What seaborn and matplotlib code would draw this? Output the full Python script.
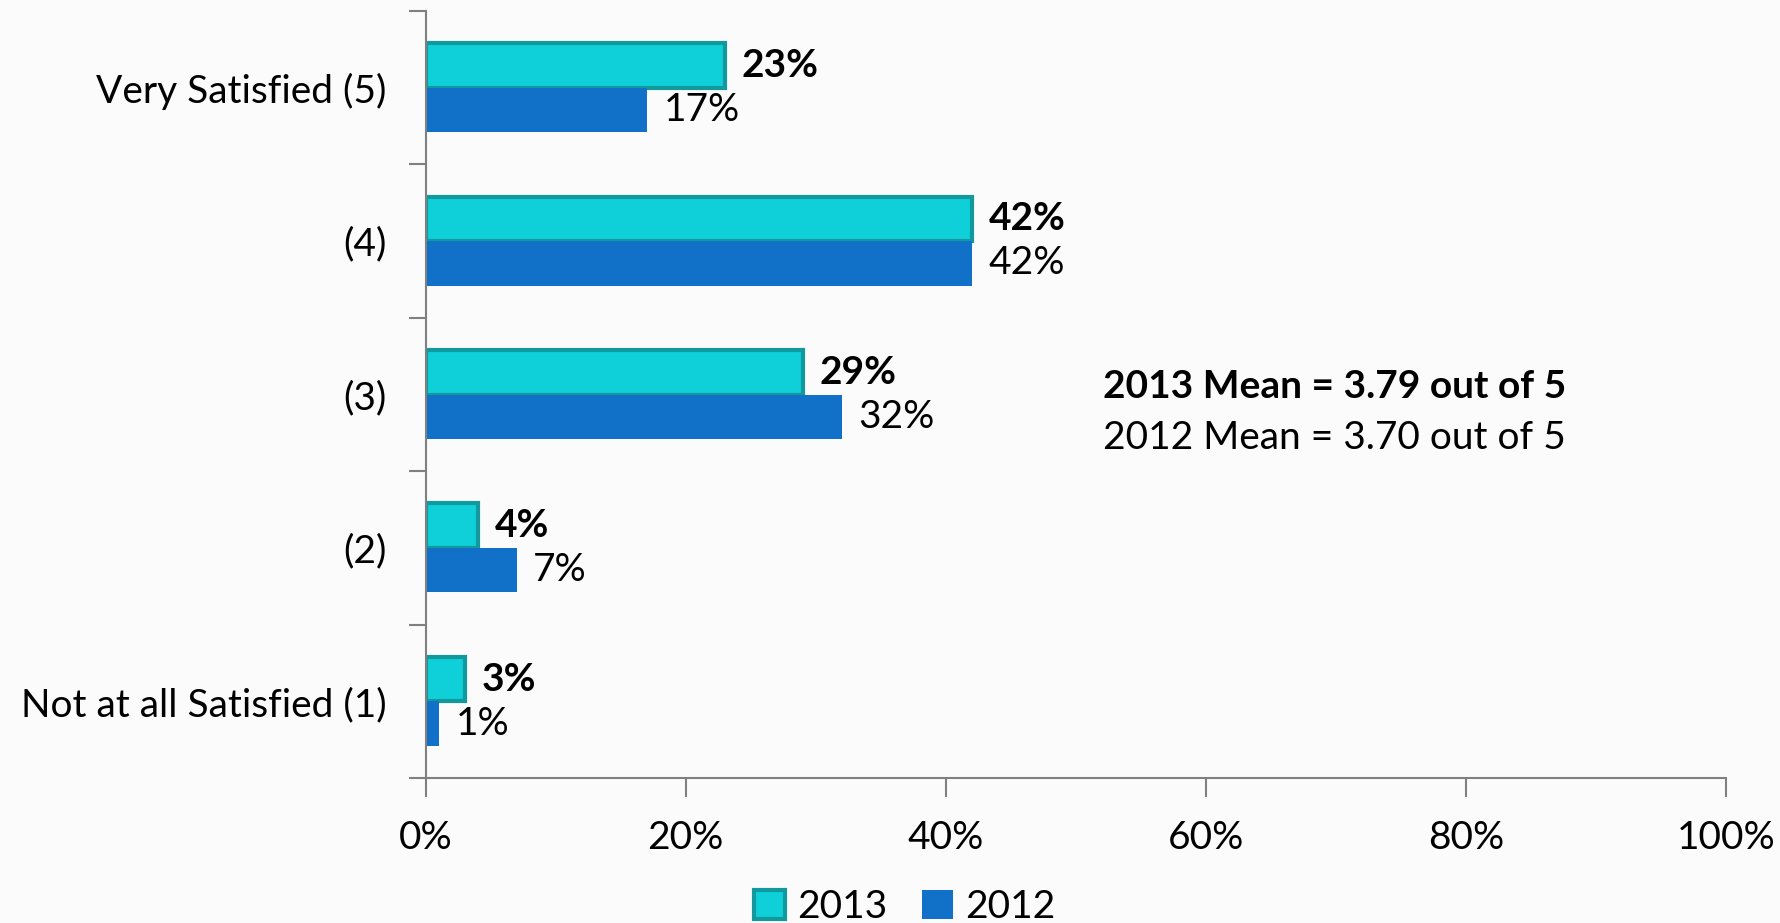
import numpy as np
import pandas as pd
import matplotlib
matplotlib.use("Agg")
import matplotlib.pyplot as plt
import seaborn as sns
from matplotlib.patches import Patch

# data
categories = ["Very Satisfied (5)", "(4)", "(3)", "(2)", "Not at all Satisfied (1)"]
years = ["2013", "2012"]
pct_2013 = [23, 42, 29, 4, 3]
pct_2012 = [17, 42, 32, 7, 1]
x_ticks = [0, 20, 40, 60, 80, 100]
mean_2013 = "2013 Mean = 3.79 out of 5"
mean_2012 = "2012 Mean = 3.70 out of 5"

df = pd.DataFrame({
    "category": categories * 2,
    "year": ["2013"] * len(categories) + ["2012"] * len(categories),
    "pct": pct_2013 + pct_2012,
})

sns.set_style("white")
plt.rcParams["font.family"] = ["Lato", "DejaVu Sans"]
plt.rcParams["text.color"] = "black"
plt.rcParams["xtick.color"] = "#808080"
plt.rcParams["ytick.color"] = "#808080"
plt.rcParams["xtick.labelcolor"] = "black"
plt.rcParams["ytick.labelcolor"] = "black"

fill_2013 = "#0fd0d8"
edge_2013 = "#12999e"
fill_2012 = "#1170c8"
bg = "#fbfbfb"
fs = 28

fig = plt.figure(figsize=(17.81, 9.23), dpi=100, facecolor=bg)
ax = fig.add_axes([0.239, 0.157, 0.730, 0.831])
ax.set_facecolor(bg)

sns.barplot(data=df, y="category", x="pct", hue="year", hue_order=years,
            order=categories, orient="h", width=0.58, saturation=1,
            palette=[fill_2013, fill_2012], ax=ax, legend=False)

# outline the 2013 bars
for bar in ax.containers[0]:
    bar.set_edgecolor(edge_2013)
    bar.set_linewidth(3)
for bar in ax.containers[1]:
    bar.set_edgecolor("none")

ax.bar_label(ax.containers[0], labels=[f"{v}%" for v in pct_2013],
             padding=12, fontsize=fs, fontweight="bold")
ax.bar_label(ax.containers[1], labels=[f"{v}%" for v in pct_2012],
             padding=12, fontsize=fs)

ax.text(52.1, 1.95, mean_2013, fontsize=fs, fontweight="bold", va="center")
ax.text(52.1, 2.28, mean_2012, fontsize=fs, va="center")

ax.set_xlim(0, 100)
ax.set_ylim(4.5, -0.5)
ax.set_xticks(x_ticks)
ax.set_xticklabels([f"{t}%" for t in x_ticks], fontsize=fs)
ax.set_yticks(range(len(categories)))
ax.set_yticklabels(categories, fontsize=fs)
ax.set_yticks(np.arange(-0.5, len(categories), 1), minor=True)
ax.tick_params(axis="y", which="major", left=True, length=0, pad=28)
ax.tick_params(axis="y", which="minor", left=True, length=12, width=1.5, direction="out")
ax.tick_params(axis="x", bottom=True, length=14, width=1.5, direction="out", pad=16)
ax.set_xlabel("")
ax.set_ylabel("")

for side in ["top", "right"]:
    ax.spines[side].set_visible(False)
for side in ["left", "bottom"]:
    ax.spines[side].set_color("#808080")
    ax.spines[side].set_linewidth(1.5)

handles = [Patch(facecolor=fill_2013, edgecolor=edge_2013, linewidth=3),
           Patch(facecolor=fill_2012, edgecolor="none")]
fig.legend(handles, years, loc="lower center", bbox_to_anchor=(0.508, -0.04),
           ncol=2, frameon=False, fontsize=fs, handlelength=0.8, handleheight=0.8,
           handletextpad=0.3, columnspacing=0.9)

fig.savefig("out.png", dpi=100, facecolor=bg)
